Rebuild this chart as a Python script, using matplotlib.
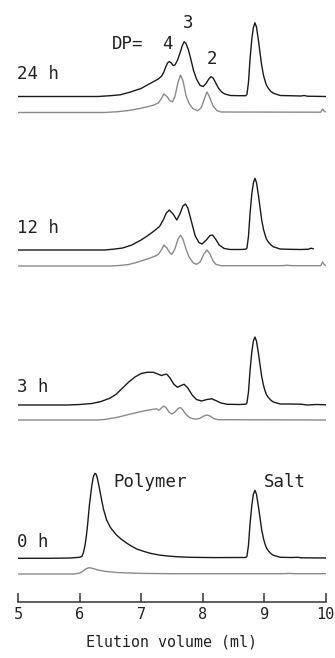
import matplotlib
matplotlib.use("Agg")
import matplotlib.pyplot as plt

# ====================
# data: elution volume (ml) vs peak height (px above each baseline)
# ====================
x_0h_black = [5.0, 5.5, 5.85, 5.95, 6.0, 6.035, 6.06, 6.09, 6.11, 6.13, 6.16, 6.2, 6.225, 6.25, 6.27,
              6.29, 6.31, 6.335, 6.36, 6.39, 6.44, 6.5, 6.55, 6.6, 6.68, 6.77, 6.85, 6.93, 7.04,
              7.15, 7.3, 7.45, 7.6, 7.8, 8.2, 8.6,
              8.70, 8.72, 8.745, 8.77, 8.80, 8.825, 8.85, 8.875, 8.905, 8.93, 8.96, 8.99, 9.015,
              9.04, 9.07, 9.11, 9.15, 9.26, 9.45, 9.55, 9.6, 10.0]
h_0h_black = [0, 0, 0.3, 0.8, 1, 1.7, 5, 13.3, 22, 33, 53, 73, 81.7, 85, 84,
              80, 74, 66, 58, 49, 38.3, 31, 27, 23.3, 19, 15, 12, 9.3, 7,
              5, 3.2, 2.2, 1.5, 1, 0.7, 0.8,
              0.8, 2, 13, 34, 53.5, 64, 68, 64, 52.5, 41.5, 28.5, 19.5, 14,
              10, 7.4, 4.7, 3, 1, 0.8, 1, 0.5, 0.3]
x_0h_grey = [5.0, 5.9, 6.0, 6.05, 6.1, 6.15, 6.2, 6.3, 6.4, 6.6, 6.8, 7.0, 7.5, 9.3, 9.4, 9.5, 10.0]
h_0h_grey = [0, 0, 0.8, 2.5, 5, 6.3, 5.8, 4, 2.8, 1.5, 1, 0.6, 0.3, 0.3, 0.6, 0.3, 0.3]

x_3h_black = [5.0, 5.8, 6.0, 6.2, 6.35, 6.5, 6.6, 6.7, 6.8, 6.9, 7.0, 7.1, 7.2, 7.27, 7.33, 7.38,
              7.42, 7.47, 7.53, 7.59, 7.65, 7.7, 7.76, 7.83, 7.9, 7.98, 8.07, 8.15, 8.23, 8.3,
              8.4, 8.6,
              8.70, 8.72, 8.745, 8.77, 8.80, 8.825, 8.85, 8.875, 8.905, 8.93, 8.96, 8.99, 9.015,
              9.04, 9.07, 9.11, 9.15, 9.26, 9.4, 9.6, 9.7, 9.85, 10.0]
h_3h_black = [0, 0, 0.5, 1.5, 3.5, 7, 11, 17, 23, 28, 31.5, 32.7, 32.7, 31, 29.5, 30.5,
              30.7, 27, 21, 17.7, 19.5, 20.7, 17, 10, 5.5, 4, 5.5, 6.2, 4, 2,
              0.7, 0.5,
              0.8, 2, 13, 34, 53.5, 64, 68, 64, 52.5, 41.5, 28.5, 19.5, 14,
              10, 7.4, 4.7, 3, 1, 1, 0.8, 0, 0.5, 0.2]
x_3h_grey = [5.0, 6.3, 6.4, 6.5, 6.6, 6.7, 6.8, 6.9, 7.0, 7.1, 7.2, 7.25, 7.29, 7.33, 7.37, 7.41,
             7.46, 7.5, 7.55, 7.6, 7.64, 7.68, 7.73, 7.8, 7.88, 7.95, 8.02, 8.07, 8.12, 8.18,
             8.25, 10.0]
h_3h_grey = [0, 0, 0.5, 1.5, 2.5, 4, 5.5, 7, 8.5, 9.7, 10.7, 11.2, 9.8, 12, 14, 12,
             7.5, 6, 8, 11.5, 12.5, 10, 5.5, 2, 0.8, 1.5, 4, 5, 4, 1.5,
             0.3, 0]

x_12h_black = [5.0, 6.4, 6.55, 6.7, 6.85, 7.0, 7.1, 7.2, 7.3, 7.36, 7.41, 7.46, 7.52, 7.58, 7.63,
               7.68, 7.72, 7.76, 7.82, 7.88, 7.94, 7.99, 8.06, 8.12, 8.16, 8.21, 8.27, 8.35,
               8.45, 8.62,
               8.70, 8.72, 8.745, 8.77, 8.80, 8.825, 8.85, 8.875, 8.905, 8.93, 8.96, 8.99, 9.015,
               9.04, 9.07, 9.11, 9.15, 9.26, 9.4, 9.6, 9.72, 9.76, 9.8]
h_12h_black = [0, 0, 0.8, 2, 5, 10, 14, 18.5, 23.5, 30, 37, 40, 36, 30, 36,
               44, 46, 42, 28, 14, 7.5, 6, 10, 14.5, 15, 11, 5, 1.5,
               0.5, 0.5,
               0.8, 2, 13.5, 36, 56.5, 67, 71.7, 67.5, 55.5, 44, 30, 20.5, 15,
               10.5, 7.8, 5, 3.2, 1, 0.7, 0.5, 0.8, 1.8, 1.2]
x_12h_grey = [5.0, 6.5, 6.65, 6.8, 6.95, 7.05, 7.15, 7.23, 7.28, 7.33, 7.37, 7.42, 7.47, 7.5, 7.55,
              7.6, 7.64, 7.68, 7.73, 7.78, 7.85, 7.9, 7.96, 8.02, 8.07, 8.12, 8.17, 8.22, 8.3,
              9.3, 9.37, 9.45, 9.92, 9.95, 9.98, 10.0]
h_12h_grey = [0, 0, 0.5, 1.5, 4, 6, 8, 10, 11.5, 16, 21, 18, 13, 11.7, 17,
              27, 30.7, 27, 17, 9, 3, 1.7, 4, 12, 16, 12, 5, 1.5, 0.3,
              0.3, 0.8, 0.3, 0.3, 4, 1, 0.8]

x_24h_black = [5.0, 6.3, 6.5, 6.66, 6.8, 6.9, 7.0, 7.1, 7.2, 7.28, 7.335, 7.37, 7.40, 7.43, 7.46,
               7.49, 7.52, 7.55, 7.59, 7.63, 7.67, 7.70, 7.73, 7.77, 7.81, 7.85, 7.9, 7.96,
               8.01, 8.06, 8.1, 8.135, 8.17, 8.21, 8.26, 8.31, 8.36, 8.45, 8.6,
               8.70, 8.72, 8.745, 8.77, 8.80, 8.825, 8.85, 8.875, 8.905, 8.93, 8.96, 8.99, 9.015,
               9.04, 9.07, 9.11, 9.15, 9.26, 9.4, 9.6, 9.65, 9.7, 10.0]
h_24h_black = [0, 0, 0.8, 1.7, 4, 6, 8, 11.5, 14.8, 17.5, 20.5, 24.5, 29.5, 33.5, 35,
               33.5, 31, 31.5, 36, 43, 51, 54.8, 53, 46.5, 37, 26.5, 17.5, 11,
               10, 13.5, 17.5, 19.8, 18.5, 14, 8, 4.5, 2.5, 1, 0.8,
               0.8, 2, 14, 37, 58, 69, 73.7, 69.5, 57, 45, 31, 21, 15.5,
               11, 8, 5, 3.3, 1, 0.8, 0.5, 1, 0.3, 0]
x_24h_grey = [5.0, 6.4, 6.6, 6.8, 6.98, 7.1, 7.2, 7.28, 7.33, 7.37, 7.42, 7.47, 7.51, 7.55, 7.6,
              7.64, 7.68, 7.73, 7.78, 7.84, 7.92, 7.98, 8.03, 8.07, 8.11, 8.17, 8.23, 8.3,
              9.92, 9.95, 9.98, 10.0]
h_24h_grey = [0, 0, 0.7, 2, 4, 5.7, 7.3, 9.5, 14, 18.5, 16, 11.7, 10.7, 16, 30,
              37.5, 32, 17, 9, 4, 1.8, 5, 14, 20.5, 16, 6.5, 2, 0.5,
              0.3, 3.5, 1, 0.8]

time_labels = ["24 h", "12 h", "3 h", "0 h"]
xticks = [5, 6, 7, 8, 9, 10]

# ====================
# layout (pixel rows, measured from the top of the figure)
# ====================
W, H = 335, 658
axis_row = 601.7
x_left, x_right = 18.0, 325.7

traces = [
    (x_24h_black, h_24h_black, 96.5, "#1a1a1a"),
    (x_24h_grey, h_24h_grey, 112.5, "#8a8a8a"),
    (x_12h_black, h_12h_black, 250.0, "#1a1a1a"),
    (x_12h_grey, h_12h_grey, 266.0, "#8a8a8a"),
    (x_3h_black, h_3h_black, 405.0, "#1a1a1a"),
    (x_3h_grey, h_3h_grey, 420.0, "#8a8a8a"),
    (x_0h_black, h_0h_black, 558.3, "#1a1a1a"),
    (x_0h_grey, h_0h_grey, 574.0, "#8a8a8a"),
]
label_rows = [79.0, 232.7, 391.7, 547.3]

mono = ["DejaVu Sans Mono"]
txt = "#222222"

fig = plt.figure(figsize=(W / 100, H / 100), dpi=100)
ax = fig.add_axes([x_left / W, (H - axis_row) / H, (x_right - x_left) / W, axis_row / H])
ax.set_xlim(5, 10)
ax.set_ylim(axis_row, 0)

for xs, hs, base, col in traces:
    ax.plot(xs, [base - h for h in hs], color=col, lw=1.0,
            solid_joinstyle="round", solid_capstyle="round")

for lab, row in zip(time_labels, label_rows):
    ax.text(4.98, row, lab, family=mono, fontsize=12.5, color=txt, ha="left", va="baseline")

ax.text(6.52, 49.3, "DP=", family=mono, fontsize=12.5, color=txt, ha="left", va="baseline")
ax.text(7.42, 49.3, "4", family=mono, fontsize=12.5, color=txt, ha="center", va="baseline")
ax.text(7.76, 28.3, "3", family=mono, fontsize=12.5, color=txt, ha="center", va="baseline")
ax.text(8.15, 64.0, "2", family=mono, fontsize=12.5, color=txt, ha="center", va="baseline")
ax.text(6.55, 486.7, "Polymer", family=mono, fontsize=12.5, color=txt, ha="left", va="baseline")
ax.text(8.99, 486.7, "Salt", family=mono, fontsize=12.5, color=txt, ha="left", va="baseline")

for s in ["left", "right", "top"]:
    ax.spines[s].set_visible(False)
ax.spines["bottom"].set_color("#333333")
ax.spines["bottom"].set_linewidth(1.1)
ax.set_yticks([])
ax.set_xticks(xticks)
ax.set_xticklabels([str(t) for t in xticks], family=mono, fontsize=11, color=txt)
ax.tick_params(axis="x", direction="in", length=6.5, width=1.1, color="#333333", pad=4)
ax.set_xlabel("Elution volume (ml)", family=mono, fontsize=10.8, color=txt, labelpad=9)

fig.savefig("out.png", dpi=100)
